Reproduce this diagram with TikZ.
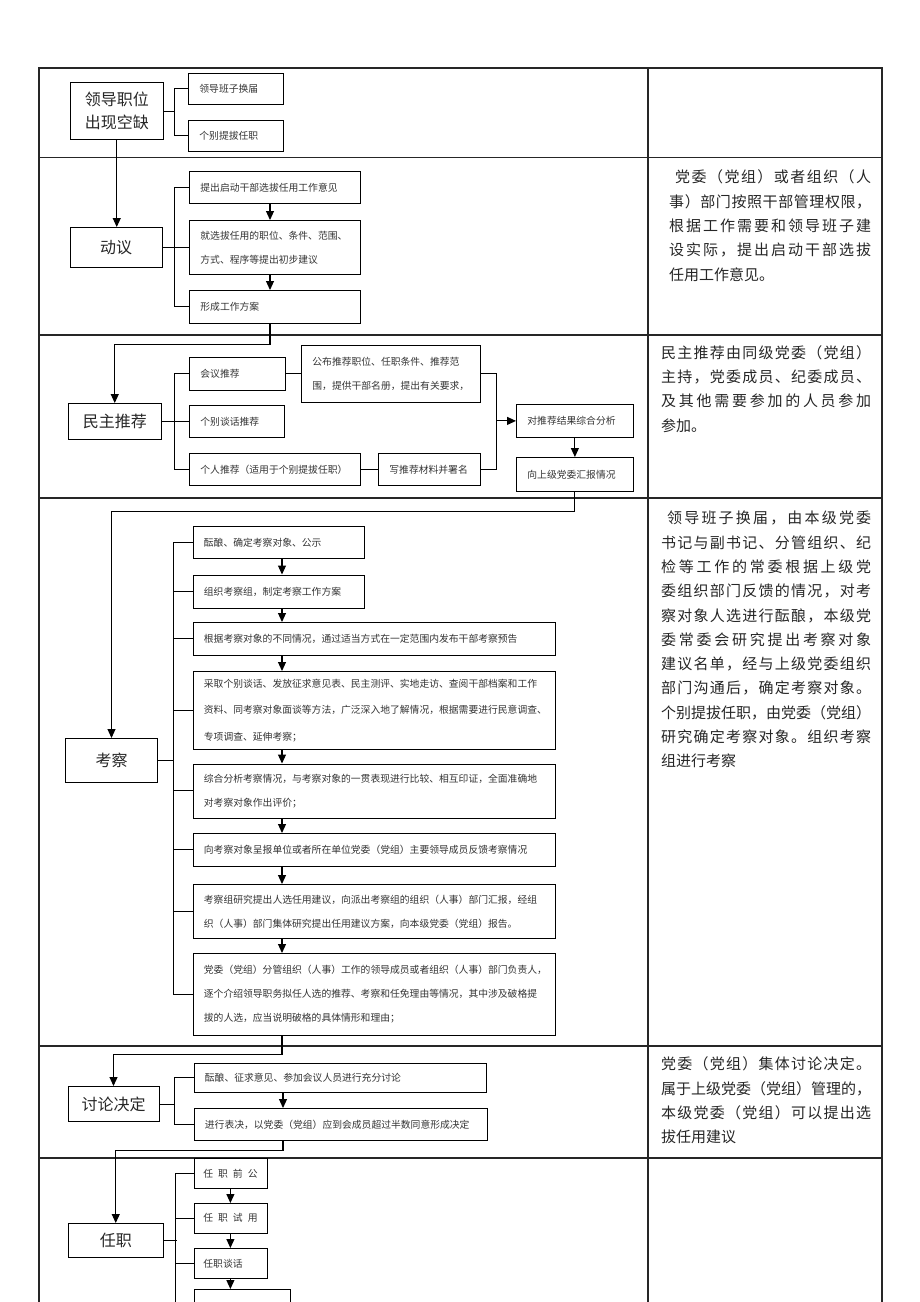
\documentclass[tikz,border=0pt]{standalone}
\usepackage{fontspec}
\setmainfont{Noto Sans CJK SC}
\usetikzlibrary{arrows.meta}

\newlength\colw
\setlength\colw{210pt}
\newcommand\zgap{\kern5pt}
\makeatletter
% one justified line of the right column
\newcommand\jline[2][\colw]{\hbox to #1{\strut\jl@a#2\relax}}
\newcommand\jlinein[2][\colw]{\hbox to #1{\strut\hskip6pt\relax\jl@a#2\relax}}
\def\jl@a#1{#1\jl@b}
\def\jl@b#1{\ifx#1\relax\else\hfil#1\expandafter\jl@b\fi}
\makeatother

\tikzset{
  stage/.style={draw, line width=1pt, anchor=north west, inner sep=0pt, align=center, text=black!85, font=\fontsize{16}{23}\selectfont},
  proc/.style={draw, line width=0.8pt, anchor=north west, inner xsep=11pt, inner ysep=0pt, align=left, text=black!80, font=\fontsize{9.8}{24}\selectfont},
  note/.style={anchor=north west, inner sep=0pt, align=left, text=black!85, font=\fontsize{15}{24.3}\selectfont},
  link/.style={line width=0.9pt},
  flow/.style={line width=1.1pt, -{Triangle[length=9pt,width=8pt]}},
  tableline/.style={line width=1.2pt, black!85}
}

\begin{document}
\begin{tikzpicture}[x=1pt,y=-1pt]
\useasboundingbox (0,0) rectangle (920,1302);
\clip (0,0) rectangle (920,1302);

% Table
\draw[tableline] (39,1302) -- (39,68) -- (882,68) -- (882,1302);
\draw[tableline] (648,68) -- (648,1302);
\foreach \y in {157.5,335,498,1046,1158}
  \draw[tableline] (39,\y) -- (882,\y);

% Vacancy
\node[stage, minimum width=93.5pt, minimum height=57pt] (vac) at (69.5,82) {领导职位\\出现空缺};
\node[proc, text width=73pt, minimum height=31pt] (lb1) at (188,73) {领导班子换届};
\node[proc, text width=73pt, minimum height=31pt] (lb2) at (188,120) {个别提拔任职};
\draw[link] (lb1.west) -- ++(-14,0) |- (lb2.west);
\draw[link] (vac.east) -- ++(11,0);

% Proposal
\node[stage, minimum width=92pt, minimum height=40pt] (dy) at (69.5,227) {动议};
\node[proc, text width=149pt, minimum height=32pt] (ty1) at (189,171) {提出启动干部选拔任用工作意见};
\node[proc, text width=149pt, minimum height=54pt] (ty2) at (189,220) {就选拔任用的职位、条件、范围、\\方式、程序等提出初步建议};
\node[proc, text width=149pt, minimum height=33pt] (ty3) at (189,290) {形成工作方案};
\coordinate (c2) at (270,0);
\draw[link] (ty1.west) -- ++(-15,0) |- (ty3.west);
\draw[link] (dy.east) -- (dy.east -| ty2.west);
\draw[flow] (ty1.south -| c2) -- (ty2.north -| c2);
\draw[flow] (ty2.south -| c2) -- (ty3.north -| c2);
\draw[flow] (vac.south) -- (vac.south |- dy.north);

% Recommendation
\node[stage, minimum width=92.5pt, minimum height=36pt] (mz) at (68,403) {民主推荐};
\node[proc, text width=74pt, minimum height=33pt] (hy) at (189,357) {会议推荐};
\node[proc, text width=73pt, minimum height=32pt] (ths) at (189,405) {个别谈话推荐};
\node[proc, text width=149pt, minimum height=32pt] (gr) at (189,453) {个人推荐（适用于个别提拔任职）};
\node[proc, text width=157pt, minimum height=57pt] (gb) at (301,345) {公布推荐职位、任职条件、推荐范\\围，提供干部名册，提出有关要求，};
\node[proc, text width=80pt, minimum height=32pt] (xc) at (378,453) {写推荐材料并署名};
\node[proc, text width=95pt, minimum height=33pt] (zh) at (516,404) {对推荐结果综合分析};
\node[proc, text width=95pt, minimum height=34pt] (hb) at (516,457) {向上级党委汇报情况};
\draw[link] (hy.west) -- ++(-15,0) |- (gr.west);
\draw[link] (mz.east) -- (mz.east -| ths.west);
\draw[link] (hy.east) -- (hy.east -| gb.west);
\draw[link] (gr.east) -- (xc.west);
\draw[link] (gb.east) -- ++(16,0) |- (xc.east);
\draw[flow] (zh.west -| gb.east) ++(16,0) -- (zh.west);
\draw[flow] (zh.south) -- (hb.north);
\draw[flow] (ty3.south -| c2) -- ++(0,21) -| (mz.north);

% Inspection
\node[stage, minimum width=92pt, minimum height=44pt] (kc) at (65,738) {考察};
\node[proc, text width=149pt, minimum height=32pt] (kc1) at (192.5,526) {酝酿、确定考察对象、公示};
\node[proc, text width=149pt, minimum height=33pt] (kc2) at (192.5,574.5) {组织考察组，制定考察工作方案};
\node[proc, text width=340pt, minimum height=33pt] (kc3) at (192.5,622) {根据考察对象的不同情况，通过适当方式在一定范围内发布干部考察预告};
\node[proc, text width=340pt, minimum height=77.5pt, font=\fontsize{9.8}{26.5}\selectfont] (kc4) at (192.5,671) {采取个别谈话、发放征求意见表、民主测评、实地走访、查阅干部档案和工作\\资料、同考察对象面谈等方法，广泛深入地了解情况，根据需要进行民意调查、\\专项调查、延伸考察；};
\node[proc, text width=340pt, minimum height=54pt] (kc5) at (192.5,763.5) {综合分析考察情况，与考察对象的一贯表现进行比较、相互印证，全面准确地\\对考察对象作出评价；};
\node[proc, text width=340pt, minimum height=33pt] (kc6) at (192.5,833) {向考察对象呈报单位或者所在单位党委（党组）主要领导成员反馈考察情况};
\node[proc, text width=340pt, minimum height=54pt] (kc7) at (192.5,884) {考察组研究提出人选任用建议，向派出考察组的组织（人事）部门汇报，经组\\织（人事）部门集体研究提出任用建议方案，向本级党委（党组）报告。};
\node[proc, text width=340pt, minimum height=82pt] (kc8) at (192.5,953) {党委（党组）分管组织（人事）工作的领导成员或者组织（人事）部门负责人，\\逐个介绍领导职务拟任人选的推荐、考察和任免理由等情况，其中涉及破格提\\拔的人选，应当说明破格的具体情形和理由；};
\coordinate (c4) at (282,0);
\draw[link] (kc1.west) -- ++(-19.5,0) |- (kc8.west);
\foreach \n in {2,...,7}
  \draw[link] (kc\n.west) -- ++(-19.5,0);
\draw[link] (kc.east) -- ++(16,0);
\foreach \a/\b in {kc1/kc2,kc2/kc3,kc3/kc4,kc4/kc5,kc5/kc6,kc6/kc7,kc7/kc8}
  \draw[flow] (\a.south -| c4) -- (\b.north -| c4);
\draw[flow] (hb.south) -- ++(0,19.5) -| (kc.north);

% Discussion
\node[stage, minimum width=91pt, minimum height=35pt] (tl) at (67.5,1086) {讨论决定};
\node[proc, text width=270.5pt, minimum height=29pt] (tl1) at (193.5,1063) {酝酿、征求意见、参加会议人员进行充分讨论};
\node[proc, text width=271pt, minimum height=32pt] (tl2) at (193.5,1108) {进行表决，以党委（党组）应到会成员超过半数同意形成决定};
\coordinate (c5) at (283,0);
\draw[link] (tl1.west) -- ++(-19.5,0) |- (tl2.west);
\draw[link] (tl.east) -- ++(15.5,0);
\draw[flow] (tl1.south -| c5) -- (tl2.north -| c5);
\draw[flow] (kc8.south -| c4) -- ++(0,19) -| (tl.north);

% Appointment
\node[stage, minimum width=95.5pt, minimum height=34pt] (rz) at (67.5,1223) {任职};
\node[proc, text width=54pt, inner xsep=9.5pt, minimum height=30pt] (rz1) at (193.5,1158) {任\zgap 职\zgap 前\zgap 公};
\node[proc, text width=54pt, inner xsep=9.5pt, minimum height=29.5pt] (rz2) at (193.5,1203) {任\zgap 职\zgap 试\zgap 用};
\node[proc, text width=54pt, inner xsep=9.5pt, minimum height=30pt] (rz3) at (193.5,1248) {任职谈话};
\node[proc, text width=74pt, minimum height=30pt] (rz4) at (193.5,1289) {};
\draw[link] (rz1.west) -- ++(-18,0) |- (rz4.west);
\foreach \n in {2,3}
  \draw[link] (rz\n.west) -- ++(-18,0);
\draw[link] (rz.east) -- ++(12.5,0);
\foreach \a/\b in {rz1/rz2,rz2/rz3,rz3/rz4}
  \draw[flow] (\a.south) -- (\a.south |- \b.north);
\draw[flow] (tl2.south -| c5) -- ++(0,9.5) -| (rz.north);

% Notes
\node[note] (n2) at (669,165.6) {\jlinein[202pt]{党委（党组）或者组织（人}\\\jline[202pt]{事）部门按照干部管理权限，}\\\jline[202pt]{根据工作需要和领导班子建}\\\jline[202pt]{设实际，提出启动干部选拔}\\\strut 任用工作意见。};
\node[note] (n3) at (661,341) {\jline{民主推荐由同级党委（党组）}\\\jline{主持，党委成员、纪委成员、}\\\jline{及其他需要参加的人员参加}\\\strut 参加。};
\node[note] (n4) at (661,506.6) {\jlinein{领导班子换届，由本级党委}\\\jline{书记与副书记、分管组织、纪}\\\jline{检等工作的常委根据上级党}\\\jline{委组织部门反馈的情况，对考}\\\jline{察对象人选进行酝酿，本级党}\\\jline{委常委会研究提出考察对象}\\\jline{建议名单，经与上级党委组织}\\\jline{部门沟通后，确定考察对象。}\\\jline{个别提拔任职，由党委（党组）}\\\jline{研究确定考察对象。组织考察}\\\strut 组进行考察};
\node[note] (n5) at (661,1052.6) {\jline{党委（党组）集体讨论决定。}\\\jline{属于上级党委（党组）管理的，}\\\jline{本级党委（党组）可以提出选}\\\strut 拔任用建议};
\end{tikzpicture}
\end{document}
